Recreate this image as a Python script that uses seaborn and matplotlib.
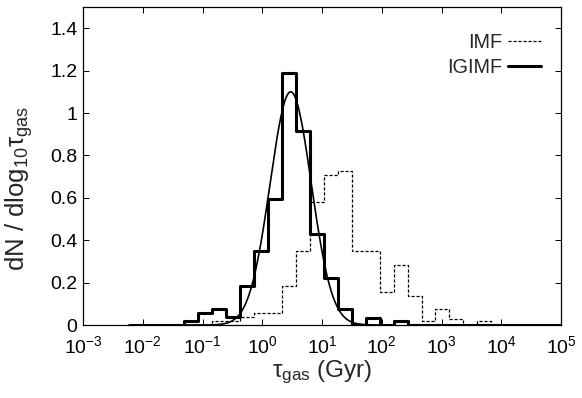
import numpy as np
import pandas as pd
import matplotlib
matplotlib.use("Agg")
import matplotlib.pyplot as plt
from matplotlib.lines import Line2D
from matplotlib.ticker import FixedLocator, FuncFormatter, NullLocator
import seaborn as sns

# ---- data (log10 tau_gas bins) ----
bin_start = -2.236      # log10 of first bin edge
bin_width = 0.2334      # bin width in dex

igimf_heights = [0, 0, 0, 0,
                 0.0185, 0.0555, 0.074, 0.037, 0.185, 0.35, 0.595, 1.19, 0.915,
                 0.427, 0.222, 0.074, 0, 0.034, 0, 0.0185,
                 0, 0, 0, 0, 0, 0, 0, 0, 0, 0, 0, 0, 0]
imf_heights = [0, 0, 0, 0,
               0, 0, 0.0185, 0.0185, 0.037, 0.0555, 0.0555, 0.183, 0.348,
               0.58, 0.708, 0.726, 0.348, 0.348, 0.157, 0.281, 0.137, 0.0185,
               0.074, 0.03, 0, 0.0185]

# Gaussian fit to IGIMF distribution in log10 tau
fit_mu = 0.476
fit_sigma = 0.345
fit_peak = 1.10
fit_range = (-1.4, 2.2)

xticks_exp = [-3, -2, -1, 0, 1, 2, 3, 4, 5]
yticks = [0, 0.2, 0.4, 0.6, 0.8, 1.0, 1.2, 1.4]


def step_frame(heights):
    n = len(heights)
    edges = bin_start + bin_width * np.arange(n + 1)
    x = np.concatenate([[edges[0]], edges])
    y = np.concatenate([[0.0], heights, [0.0]])
    return pd.DataFrame({"tau": 10 ** x, "val": y})


sns.set_theme(style="ticks")
plt.rcParams["font.family"] = ["Liberation Sans", "DejaVu Sans"]
plt.rcParams["mathtext.fontset"] = "custom"
plt.rcParams["mathtext.rm"] = "Liberation Sans"
plt.rcParams["mathtext.it"] = "Liberation Sans"
plt.rcParams["mathtext.default"] = "rm"

fig = plt.figure(figsize=(5.82, 3.98), dpi=100)
ax = fig.add_axes([83 / 582, 1 - 325 / 398, 478 / 582, 318 / 398])

imf_df = step_frame(imf_heights)
igimf_df = step_frame(igimf_heights)

lx = np.linspace(fit_range[0], fit_range[1], 400)
fit_df = pd.DataFrame({"tau": 10 ** lx,
                       "val": fit_peak * np.exp(-0.5 * ((lx - fit_mu) / fit_sigma) ** 2)})

sns.lineplot(data=imf_df, x="tau", y="val", ax=ax, drawstyle="steps-post",
             color="black", lw=0.9, linestyle=(0, (2.5, 1.5)), sort=False,
             estimator=None)
sns.lineplot(data=fit_df, x="tau", y="val", ax=ax, color="black", lw=1.2,
             sort=False, estimator=None)
sns.lineplot(data=igimf_df, x="tau", y="val", ax=ax, drawstyle="steps-post",
             color="black", lw=2.2, sort=False, estimator=None)

ax.set_xscale("log")
ax.set_xlim(1e-3, 1e5)
ax.set_ylim(0, 1.5)
ax.xaxis.set_major_locator(FixedLocator([10.0 ** e for e in xticks_exp]))
ax.xaxis.set_minor_locator(NullLocator())
ax.xaxis.set_major_formatter(FuncFormatter(
    lambda v, p: r"$\mathregular{10^{%d}}$" % int(round(np.log10(v)))))
ax.yaxis.set_major_locator(FixedLocator(yticks))
ax.yaxis.set_major_formatter(FuncFormatter(lambda v, p: "%g" % v))

ax.tick_params(axis="both", which="major", direction="in", length=4.5,
               width=0.7, labelsize=14, top=True, right=True,
               colors="black")
ax.tick_params(axis="x", pad=7)
ax.tick_params(axis="y", pad=4)
for s in ax.spines.values():
    s.set_linewidth(0.9)
    s.set_color("black")

ax.set_xlabel(r"$\mathregular{\tau_{gas}}$ (Gyr)", fontsize=17.5)
ax.xaxis.set_label_coords(0.5, -0.105)
ax.set_ylabel(r"dN / dlog$_{\mathregular{10}}\mathregular{\tau_{gas}}$", fontsize=18.5)
ax.yaxis.set_label_coords(-0.10, 0.43)

handles = [Line2D([], [], color="black", lw=0.9, linestyle=(0, (2.5, 1.5))),
           Line2D([], [], color="black", lw=2.2)]
leg = ax.legend(handles, ["IMF", "IGIMF"], loc="upper right",
                bbox_to_anchor=(0.974, 0.942), frameon=False, markerfirst=False,
                fontsize=14.3, handlelength=1.65, handletextpad=0.3,
                labelspacing=0.3, borderaxespad=0)

fig.savefig("out.png", dpi=100, facecolor="white")
